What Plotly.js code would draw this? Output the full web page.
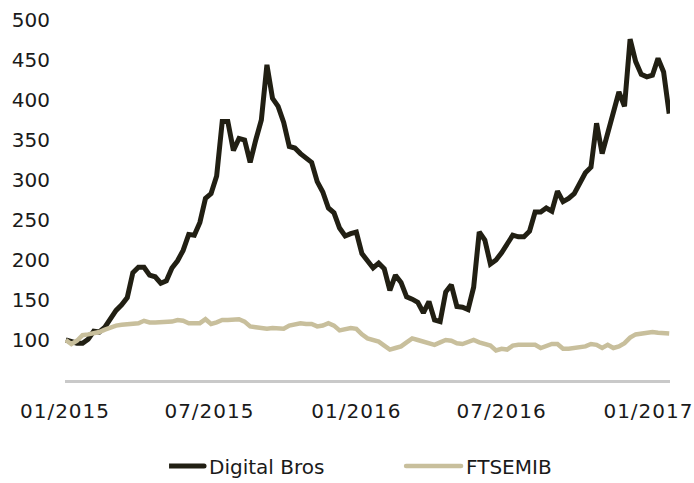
<!DOCTYPE html>
<html>
<head>
<meta charset="utf-8">
<script src="https://cdn.plot.ly/plotly-3.0.1.min.js"></script>
<style>
  html, body { margin: 0; padding: 0; background: #fff; }
  #chart { width: 694px; height: 483px; }
  #chart .xtick text { letter-spacing: 1px; }
</style>
</head>
<body>
<div id="chart"></div>
<script>
// weekly closes, rebased to 100 on the first week of 2015
const firstWeek = '2015-01-02';
const weekCount = 109;

const digitalBros = [
  100, 98, 96, 96, 101, 111, 110, 116, 127, 137,
  144, 153, 184, 191, 191, 181, 179, 171, 174, 190,
  199, 212, 232, 231, 247, 277, 283, 305, 373, 373,
  337, 352, 350, 322, 350, 375, 444, 402, 392, 372,
  342, 340, 333, 327, 322, 298, 285, 265, 259, 240,
  230, 233, 235, 208, 200, 190, 196, 189, 162, 181,
  172, 154, 151, 147, 134, 148, 125, 123, 160, 169,
  142, 141, 138, 166, 235, 225, 195, 200, 209, 220,
  231, 229, 229, 236, 260, 260, 265, 261, 286, 273,
  277, 283, 296, 309, 316, 371, 333, 358, 382, 410,
  392, 476, 448, 432, 429, 431, 452, 435, 383
];

const ftsemib = [
  100, 95, 99, 106, 107, 108, 110, 113, 116, 118,
  119, 120, 121, 121, 124, 122, 122, 122, 122, 123,
  125, 124, 121, 121, 121, 126, 120, 122, 125, 125,
  125, 126, 123, 117, 116, 115, 114, 115, 114, 114,
  118, 119, 121, 120, 120, 117, 118, 121, 118, 112,
  114, 115, 114, 107, 102, 100, 98, 93, 88, 90,
  92, 97, 102, 100, 98, 96, 94, 97, 100, 99,
  96, 95, 97, 100, 97, 95, 93, 87, 89, 88,
  93, 94, 94, 94, 94, 90, 93, 95, 95, 89,
  89, 90, 91, 92, 95, 94, 90, 94, 90, 92,
  96, 103, 107, 108, 109, 110, 109, 109, 108
];

const tickDates = ['2015-01-01', '2015-07-01', '2016-01-01', '2016-07-01', '2017-01-01'];
const tickLabels = ['01/2015', '07/2015', '01/2016', '07/2016', '01/2017'];

// build the weekly date axis
const dates = [];
const d0 = new Date(firstWeek + 'T00:00:00Z');
for (let i = 0; i < weekCount; i++) {
  const d = new Date(d0.getTime() + i * 7 * 86400000);
  dates.push(d.toISOString().slice(0, 10));
}

const font = { family: 'DejaVu Sans, sans-serif', size: 20, color: '#1a1a1a' };

const traces = [
  {
    x: dates, y: digitalBros, name: 'Digital Bros',
    type: 'scatter', mode: 'lines',
    line: { color: '#211f13', width: 5 }
  },
  {
    x: dates, y: ftsemib, name: 'FTSEMIB',
    type: 'scatter', mode: 'lines',
    line: { color: '#c8bf9c', width: 4.5 }
  }
];

const layout = {
  width: 694,
  height: 483,
  margin: { l: 65, r: 24, t: 20, b: 103 },
  paper_bgcolor: '#ffffff',
  plot_bgcolor: '#ffffff',
  font: font,
  showlegend: true,
  legend: {
    orientation: 'h',
    xref: 'paper', x: 0.172, xanchor: 'left',
    yref: 'container', y: 0.035, yanchor: 'middle',
    font: font,
    traceorder: 'normal',
    entrywidth: 212
  },
  xaxis: {
    type: 'date',
    range: ['2015-01-01', '2017-01-28'],
    tickvals: tickDates,
    ticktext: tickLabels,
    showgrid: false,
    zeroline: false,
    showline: true,
    linecolor: '#c9c9c9',
    linewidth: 3,
    ticks: '',
    ticklabelstandoff: 11,
    automargin: false,
    tickfont: font
  },
  yaxis: {
    range: [50, 500],
    tickvals: [100, 150, 200, 250, 300, 350, 400, 450, 500],
    showgrid: false,
    zeroline: false,
    showline: false,
    ticks: '',
    ticklabelstandoff: 14,
    automargin: false,
    tickfont: font
  }
};

Plotly.newPlot('chart', traces, layout, { displayModeBar: false, staticPlot: true }).then(function() {
  // the legend keys in the original are longer, round-capped strokes
  document.querySelectorAll('#chart .legendlines path').forEach(function(p) {
    p.setAttribute('d', 'M-20,0h55');
    p.style.strokeLinecap = 'round';
  });
});
</script>
</body>
</html>
